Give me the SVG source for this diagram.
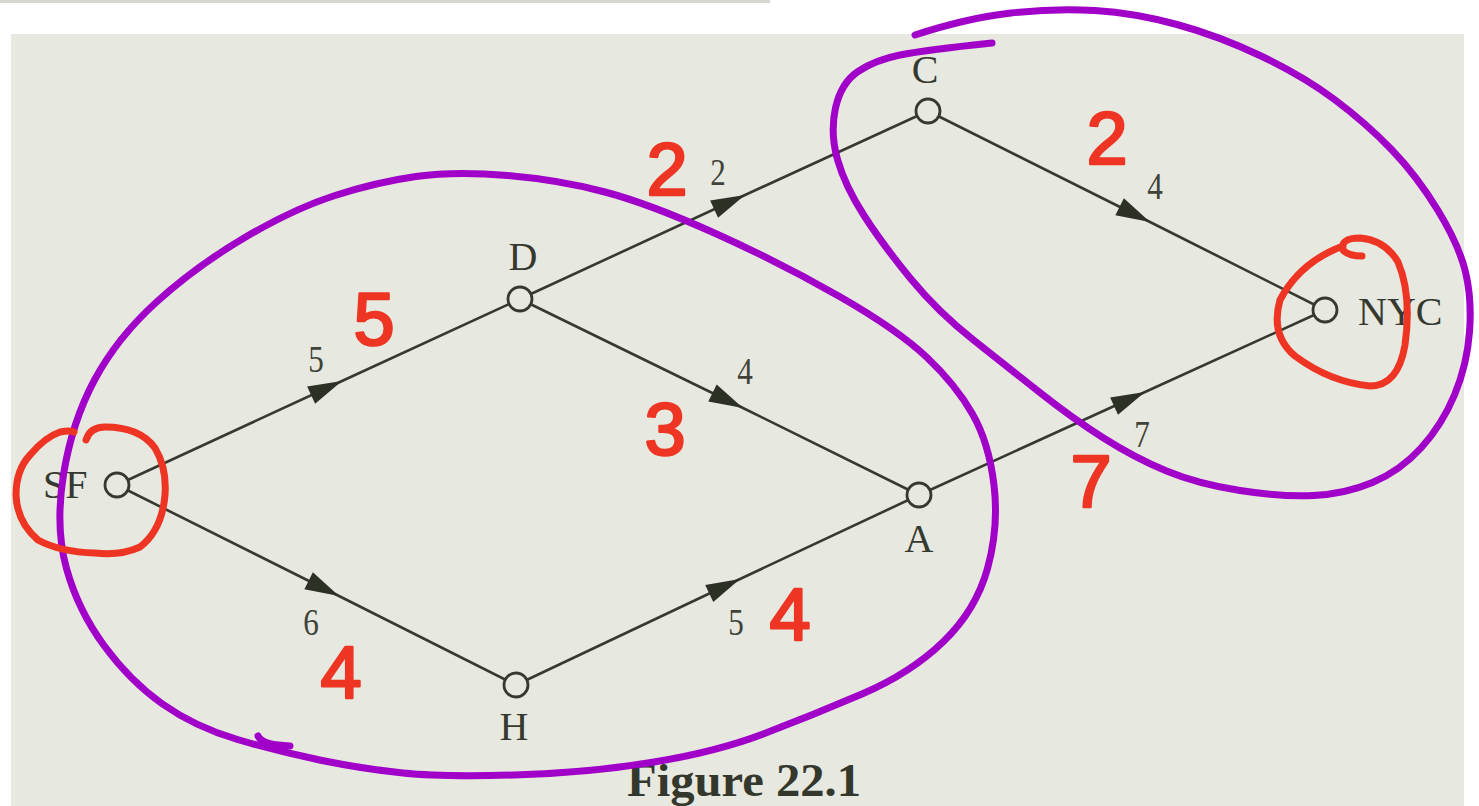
<svg xmlns="http://www.w3.org/2000/svg" width="1479" height="806" viewBox="0 0 1479 806">
<style>
.edge{fill:none;stroke:#363a2e;stroke-width:2.6;marker-mid:url(#arr)}
.node{fill:#e7e8df;stroke:#363a2e;stroke-width:2.8}
.lbl{font-family:"Liberation Serif","Times New Roman",serif;font-size:40px;fill:#36392f}
.w{font-family:"Liberation Serif","Times New Roman",serif;font-size:38px;fill:#404339;text-anchor:middle}
.red{font-family:"Liberation Sans",Arial,sans-serif;font-size:74px;fill:#ee3524;stroke:#ee3524;stroke-width:2.5;stroke-linejoin:round;text-anchor:middle}
.purple{fill:none;stroke:#a000c8;stroke-width:7;stroke-linecap:round;stroke-linejoin:round}
.redline{fill:none;stroke:#ee3524;stroke-width:7;stroke-linecap:round;stroke-linejoin:round}
</style>
<defs>
<marker id="arr" markerUnits="userSpaceOnUse" viewBox="-36 -11 38 22" refX="0" refY="0" markerWidth="38" markerHeight="22" orient="auto">
<path d="M0,0 L-34,-9.5 L-34,9.5 Z" fill="#2c3025"/>
</marker>
</defs>
<rect x="0" y="0" width="1479" height="806" fill="#ffffff"/>
<rect x="0" y="0" width="770" height="3" fill="#d6d7cf"/>
<rect x="11" y="34" width="1453" height="772" fill="#e7e8df"/>
<g id="connectors">
<path class="edge" d="M117,485 L342,381 L520,299"/>
<path class="edge" d="M117,485 L339,596 L516,685"/>
<path class="edge" d="M520,299 L745,195 L928,111"/>
<path class="edge" d="M520,299 L743,408 L919,495"/>
<path class="edge" d="M516,685 L740,579 L919,495"/>
<path class="edge" d="M919,495 L1145,392 L1325,310"/>
<path class="edge" d="M928,111 L1150,222 L1325,310"/>
<g transform="translate(316,372) scale(0.82,1)"><text class="w">5</text></g>
<g transform="translate(311,635) scale(0.82,1)"><text class="w">6</text></g>
<g transform="translate(718,185) scale(0.82,1)"><text class="w">2</text></g>
<g transform="translate(745,384) scale(0.82,1)"><text class="w">4</text></g>
<g transform="translate(736,635) scale(0.82,1)"><text class="w">5</text></g>
<g transform="translate(1142,447) scale(0.82,1)"><text class="w">7</text></g>
<g transform="translate(1155,199) scale(0.82,1)"><text class="w">4</text></g>
</g>
<g id="node-SF"><circle class="node" cx="117" cy="485" r="12"/><text class="lbl" x="43" y="498">SF</text></g>
<g id="node-D"><circle class="node" cx="520" cy="299" r="12"/><text class="lbl" x="523" y="270" text-anchor="middle">D</text></g>
<g id="node-C"><circle class="node" cx="928" cy="111" r="12"/><text class="lbl" x="925" y="83" text-anchor="middle">C</text></g>
<g id="node-NYC"><circle class="node" cx="1325" cy="310" r="12"/><text class="lbl" x="1358" y="325">NYC</text></g>
<g id="node-A"><circle class="node" cx="919" cy="495" r="12"/><text class="lbl" x="919" y="552" text-anchor="middle">A</text></g>
<g id="node-H"><circle class="node" cx="516" cy="685" r="12"/><text class="lbl" x="514" y="740" text-anchor="middle">H</text></g>
<text x="627" y="796" font-family="'Liberation Serif','Times New Roman',serif" font-weight="bold" font-size="46" fill="#34372c" textLength="234" lengthAdjust="spacingAndGlyphs">Figure 22.1</text>
<g id="annotations">
<path class="purple" d="M416,176.5 Q455,171 507.5,175.5 Q560,180 605,192 Q650,204 715.5,233.5 Q781,263 839.5,296.5 Q898,330 927,357.5 Q956,385 972.5,414 Q989,443 994,485 Q999,527 987.5,568.5 Q976,610 943.5,641.5 Q911,673 862,694 Q813,715 764.5,733.5 Q716,752 651,762.5 Q586,773 514,775 Q442,777 403,773 Q364,769 322,760.5 Q280,752 237.5,739.5 Q195,727 162.5,704 Q130,681 104,645.5 Q78,610 66.5,568.5 Q55,527 63.5,474.5 Q72,422 94.5,380 Q117,338 156,302.5 Q195,267 244,238 Q293,209 335,195.5 Q377,182 416,176.5 Z"/>
<path class="purple" d="M258,736 Q262,745 290,746"/>
<path class="purple" d="M915,35 Q967,18 1011,13 Q1055,8 1095,10.5 Q1135,13 1177,24.5 Q1219,36 1261,56 Q1303,76 1334.5,99.5 Q1366,123 1391.5,149.5 Q1417,176 1438,210.5 Q1459,245 1465.5,272 Q1472,299 1469.5,332 Q1467,365 1454.5,395 Q1442,425 1421,448 Q1400,471 1372.5,482.5 Q1345,494 1313.5,495.5 Q1282,497 1240,490.5 Q1198,484 1166.5,471 Q1135,458 1103.5,438 Q1072,418 1040.5,393 Q1009,368 973.5,340 Q938,312 910.5,278.5 Q883,245 864,215.5 Q845,186 837.5,159.5 Q830,133 835.5,108 Q841,83 858,71.5 Q875,60 900,55 Q925,50 992,43"/>
<path class="redline" d="M86,440 Q90,427 105,427 Q140,427 155,448 Q167,468 165,495 Q162,530 140,547 Q120,556 95,553 Q60,552 38,540 Q17,522 16,495 Q16,470 30,455 Q45,437 60,432 Q70,430 74,432"/>
<path class="redline" d="M1343,246 Q1300,262 1280,300 Q1270,335 1295,356 Q1330,382 1370,386 Q1398,386 1405,345 Q1412,295 1398,262 Q1385,240 1360,238 Q1340,238 1343,250 Q1348,256 1362,256"/>
<text class="red" x="667" y="195">2</text>
<text class="red" x="374" y="345">5</text>
<text class="red" x="665" y="455">3</text>
<text class="red" x="341" y="698">4</text>
<text class="red" x="790" y="640">4</text>
<text class="red" x="1091" y="507">7</text>
<text class="red" x="1107" y="164">2</text>
</g>
</svg>
